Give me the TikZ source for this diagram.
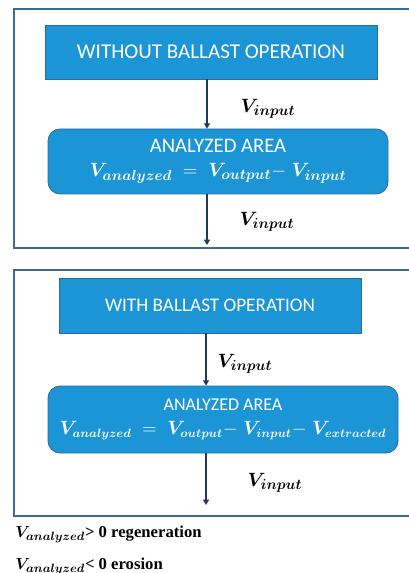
\documentclass[tikz,border=0pt]{standalone}
\usepackage{amsmath,bm}
\usepackage{fontspec}
\setmainfont{Liberation Serif}
\newfontfamily\boxfont{Carlito}
\usetikzlibrary{arrows.meta}
\definecolor{boxblue}{HTML}{1B95D5}
\definecolor{boxedge}{HTML}{2B6C9C}
\definecolor{arrowc}{HTML}{1F3A5C}
\definecolor{framec}{HTML}{3D6A92}
\tikzset{
  frameline/.style={draw=framec, line width=1.2pt},
  sqbox/.style={rectangle, fill=boxblue, draw=boxedge, line width=0.6pt, text=white, align=center, font=\boxfont\fontsize{15.8}{17}\selectfont},
  rbox/.style={sqbox, rounded corners=9pt, font=\boxfont\fontsize{15.5}{17}\selectfont},
  flow/.style={draw=arrowc, line width=1.5pt, -{Triangle[length=4pt,width=4.5pt]}},
  vlabel/.style={font=\fontsize{15}{17}\selectfont, text=black},
  legend/.style={anchor=west, inner sep=0pt, font=\fontsize{12.5}{14}\selectfont\bfseries}
}
\newcommand{\bV}[1]{\boldsymbol{V_{#1}}}
\newcommand{\tm}{{-}\;}
\begin{document}
\begin{tikzpicture}[x=0.75pt,y=-0.75pt]
\useasboundingbox (0,0) rectangle (409,573);
% frames
\draw[frameline] (409,9) -- (14,9) -- (14,248) -- (409,248);
\draw[frameline] (409,270) -- (14,270) -- (14,516) -- (409,516);
% top diagram
\node[sqbox, minimum width=249pt, minimum height=40.5pt] (b1) at (211,52) {WITHOUT BALLAST OPERATION};
\node[rbox, minimum width=255pt, minimum height=48.75pt] (b2) at (218,161.5)
  {ANALYZED AREA\\[1pt] $\bV{analyzed} \;=\; \bV{output}\tm\bV{input}$};
\coordinate (x1) at (207,0);
\coordinate (e1) at (207,245);
\draw[flow] (x1 |- b1.south) -- (x1 |- b2.north);
\draw[flow] (x1 |- b2.south) -- (e1);
\node[vlabel] (l1) at (268,109) {$\bV{input}$};
\node[vlabel] (l2) at (267,222) {$\bV{input}$};
% bottom diagram
\node[sqbox, minimum width=226.5pt, minimum height=41.25pt, font=\boxfont\fontsize{14.4}{16}\selectfont] (b3) at (210,305.5) {WITH BALLAST OPERATION};
\node[rbox, minimum width=262.5pt, minimum height=50.25pt, font=\boxfont\fontsize{13.5}{15}\selectfont] (b4) at (223,419.5)
  {ANALYZED AREA\\[3pt] $\bV{analyzed} \;=\; \bV{output}\tm\bV{input}\tm\bV{extracted}$};
\coordinate (x2) at (206,0);
\coordinate (e2) at (206,505);
\draw[flow] (x2 |- b3.south) -- (x2 |- b4.north);
\draw[flow] (x2 |- b4.south) -- (e2);
\node[vlabel] (l3) at (245,364) {$\bV{input}$};
\node[vlabel] (l4) at (275,483) {$\bV{input}$};
% legend
\node[legend] (t1) at (15,534) {$\bV{analyzed}$> 0 regeneration};
\node[legend] (t2) at (15,566) {$\bV{analyzed}$< 0 erosion};
\end{tikzpicture}
\end{document}
